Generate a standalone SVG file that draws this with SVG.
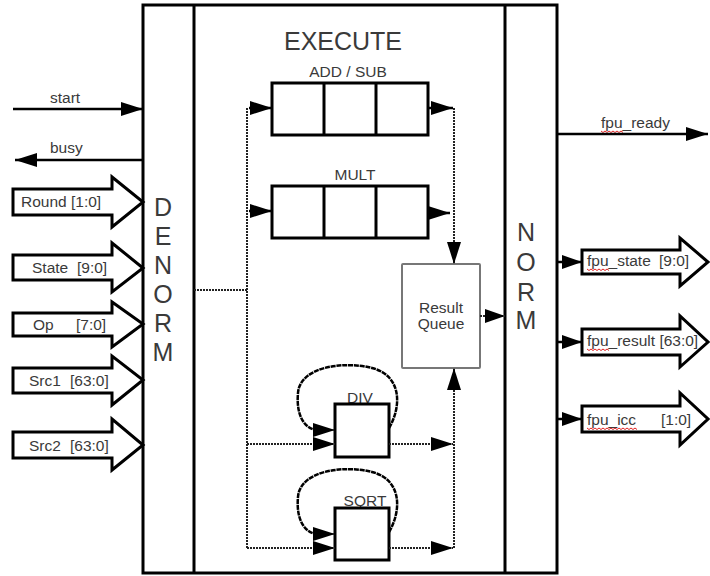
<svg xmlns="http://www.w3.org/2000/svg" width="710" height="576" viewBox="0 0 710 576">
  <style>
    text { font-family: "Liberation Sans", Arial, sans-serif; fill: #3a3a3a; }
    .lbl { font-size: 15.5px; }
    .big { font-size: 25px; }
    .frame { fill: #fff; stroke: #000; stroke-width: 3; }
    .box { fill: #fff; stroke: #000; stroke-width: 3; }
    .solid { fill: none; stroke: #000; stroke-width: 2.5; }
    .dot { fill: none; stroke: #222; stroke-width: 2; stroke-dasharray: 2 1; }
    .loop { fill: none; stroke: #000; stroke-width: 2.5; stroke-dasharray: 5 0.8; }
    .fat { fill: #fff; stroke: #000; stroke-width: 3; stroke-linejoin: miter; }
    .queue { fill: #fff; stroke: #777; stroke-width: 2; }
    .squig { fill: none; stroke: #e02020; stroke-width: 1; }
  </style>
  <defs>
    <marker id="ah" markerUnits="userSpaceOnUse" markerWidth="24" markerHeight="16" refX="22" refY="7" orient="auto">
      <path d="M0,0 L22,7 L0,14 z" fill="#000"/>
    </marker>
    <marker id="ahs" markerUnits="userSpaceOnUse" markerWidth="22" markerHeight="16" refX="20" refY="7" orient="auto">
      <path d="M0,0 L20,7 L0,14 z" fill="#000"/>
    </marker>
  </defs>

  <rect width="710" height="576" fill="#fff"/>

  <!-- outer frame with DENORM / EXECUTE / NORM columns -->
  <g id="frame">
    <rect class="frame" x="143" y="5" width="414" height="568"/>
  </g>

  <g id="denorm">
    <line x1="194" y1="5" x2="194" y2="573" stroke="#000" stroke-width="3"/>
    <g class="big" text-anchor="middle">
      <text x="163" y="216">D</text>
      <text x="163" y="245">E</text>
      <text x="163" y="274">N</text>
      <text x="163" y="303">O</text>
      <text x="163" y="332">R</text>
      <text x="163" y="361">M</text>
    </g>
  </g>

  <g id="norm">
    <line x1="505" y1="5" x2="505" y2="573" stroke="#000" stroke-width="3"/>
    <g class="big" text-anchor="middle">
      <text x="526" y="241">N</text>
      <text x="526" y="271">O</text>
      <text x="526" y="301">R</text>
      <text x="526" y="329">M</text>
    </g>
  </g>

  <g id="execute">
    <text class="big" x="343" y="50" text-anchor="middle">EXECUTE</text>
  </g>

  <!-- pipelined units -->
  <g id="addsub">
    <text class="lbl" x="348" y="77" text-anchor="middle">ADD / SUB</text>
    <rect class="box" x="272" y="83" width="156" height="52"/>
    <line x1="324" y1="83" x2="324" y2="135" stroke="#000" stroke-width="3"/>
    <line x1="376" y1="83" x2="376" y2="135" stroke="#000" stroke-width="3"/>
  </g>

  <g id="mult">
    <text class="lbl" x="355" y="180" text-anchor="middle">MULT</text>
    <rect class="box" x="272" y="186" width="156" height="52"/>
    <line x1="324" y1="186" x2="324" y2="238" stroke="#000" stroke-width="3"/>
    <line x1="376" y1="186" x2="376" y2="238" stroke="#000" stroke-width="3"/>
  </g>

  <g id="queue">
    <rect class="queue" x="402" y="264" width="78" height="104" rx="1"/>
    <text class="lbl" x="441" y="313" text-anchor="middle">Result</text>
    <text class="lbl" x="441" y="329" text-anchor="middle">Queue</text>
  </g>

  <g id="div">
    <text class="lbl" x="360" y="403" text-anchor="middle">DIV</text>
    <rect class="box" x="335" y="404" width="54" height="53"/>
  </g>

  <g id="sqrt">
    <text class="lbl" x="365" y="506" text-anchor="middle">SQRT</text>
    <rect class="box" x="335" y="508" width="54" height="52"/>
  </g>

  <!-- input ports -->
  <g id="in-round">
    <path class="fat" d="M13,189 L112,189 L112,177 L143,202 L112,227 L112,215 L13,215 Z"/>
    <text class="lbl" x="21" y="207">Round [1:0]</text>
  </g>
  <g id="in-state">
    <path class="fat" d="M13,255 L112,255 L112,243 L143,268 L112,292 L112,280 L13,280 Z"/>
    <text class="lbl" x="32" y="273"><tspan>State </tspan><tspan x="77">[9:0]</tspan></text>
  </g>
  <g id="in-op">
    <path class="fat" d="M13,313 L112,313 L112,302 L143,324 L112,347 L112,336 L13,336 Z"/>
    <text class="lbl" x="33" y="330"><tspan>Op </tspan><tspan x="76">[7:0]</tspan></text>
  </g>
  <g id="in-src1">
    <path class="fat" d="M13,368 L112,368 L112,356 L143,380 L112,405 L112,393 L13,393 Z"/>
    <text class="lbl" x="29" y="386"><tspan>Src1 </tspan><tspan x="70">[63:0]</tspan></text>
  </g>
  <g id="in-src2">
    <path class="fat" d="M13,432 L112,432 L112,419 L143,445 L112,470 L112,458 L13,458 Z"/>
    <text class="lbl" x="29" y="451"><tspan>Src2 </tspan><tspan x="70">[63:0]</tspan></text>
  </g>
  <g id="start-label"><text class="lbl" x="50" y="103">start</text></g>
  <g id="busy-label"><text class="lbl" x="50" y="153">busy</text></g>

  <!-- output ports -->
  <g id="fpu-ready-label">
    <text class="lbl" x="601" y="128">fpu_ready</text>
    <path class="squig" d="M601,131 l2,1.5 l2,-1.5 l2,1.5 l2,-1.5 l2,1.5 l2,-1.5 l2,1.5 l2,-1.5 l2,1.5 l2,-1.5 l2,1.5"/>
  </g>
  <g id="out-state">
    <path class="fat" d="M582,250 L680,250 L680,238 L708,262 L680,286 L680,274 L582,274 Z"/>
    <text class="lbl" x="587" y="266"><tspan>fpu_state </tspan><tspan x="659">[9:0]</tspan></text>
    <path class="squig" d="M587,269 l2,1.5 l2,-1.5 l2,1.5 l2,-1.5 l2,1.5 l2,-1.5 l2,1.5 l2,-1.5 l2,1.5 l2,-1.5 l2,1.5"/>
  </g>
  <g id="out-result">
    <path class="fat" d="M582,329 L680,329 L680,316 L708,342 L680,367 L680,355 L582,355 Z"/>
    <text class="lbl" x="587" y="346">fpu_result [63:0]</text>
    <path class="squig" d="M587,349 l2,1.5 l2,-1.5 l2,1.5 l2,-1.5 l2,1.5 l2,-1.5 l2,1.5 l2,-1.5 l2,1.5 l2,-1.5 l2,1.5"/>
  </g>
  <g id="out-icc">
    <path class="fat" d="M582,406 L680,406 L680,393 L708,419 L680,445 L680,432 L582,432 Z"/>
    <text class="lbl" x="587" y="425"><tspan>fpu_icc </tspan><tspan x="661">[1:0]</tspan></text>
    <path class="squig" d="M587,428 l2,1.5 l2,-1.5 l2,1.5 l2,-1.5 l2,1.5 l2,-1.5 l2,1.5 l2,-1.5 l2,1.5 l2,-1.5 l2,1.5 l2,-1.5 l2,1.5 l2,-1.5 l2,1.5 l2,-1.5 l2,1.5 l2,-1.5 l2,1.5 l2,-1.5 l2,1.5 l2,-1.5 l2,1.5 l2,-1.5 l2,1.5"/>
  </g>

  <!-- connectors -->
  <g id="connectors">
    <line class="solid" x1="13" y1="109" x2="143" y2="109" marker-end="url(#ah)"/>
    <line class="solid" x1="143" y1="160" x2="15" y2="160" marker-end="url(#ah)"/>

    <!-- DENORM to execution units -->
    <path class="dot" d="M194,290 L247,290"/>
    <path class="dot" d="M247,108 L247,548"/>
    <line class="solid" x1="249" y1="108" x2="272" y2="108" stroke-width="1" marker-end="url(#ah)"/>
    <line class="solid" x1="249" y1="211" x2="272" y2="211" stroke-width="1" marker-end="url(#ah)"/>
    <path class="dot" d="M247,444 L335,444" marker-end="url(#ah)"/>
    <path class="dot" d="M247,548 L335,548" marker-end="url(#ah)"/>

    <!-- iteration loops -->
    <path class="loop" d="M389,428 C401,408 403,376 372,368 C345,361 300,366 298,393 C296,415 304,428 316,430" />
    <line x1="314" y1="430" x2="335" y2="430" stroke="#000" stroke-width="1" marker-end="url(#ah)"/>
    <path class="loop" d="M389,532 C401,512 403,480 372,472 C345,465 300,470 298,497 C296,519 304,532 316,534" />
    <line x1="314" y1="534" x2="335" y2="534" stroke="#000" stroke-width="1" marker-end="url(#ah)"/>

    <!-- unit outputs to result queue -->
    <line class="solid" x1="428" y1="108" x2="453" y2="108" stroke-width="1" marker-end="url(#ah)"/>
    <path class="dot" d="M454,108 L454,264" marker-end="url(#ah)"/>
    <line class="solid" x1="428" y1="213" x2="450" y2="213" stroke-width="1.5" marker-end="url(#ah)"/>
    <path class="dot" d="M389,444 L453,444" marker-end="url(#ah)"/>
    <path class="dot" d="M389,548 L453,548" marker-end="url(#ah)"/>
    <path class="dot" d="M454,548 L454,368" marker-end="url(#ah)"/>
    <path class="dot" d="M480,316 L505,316" marker-end="url(#ahs)"/>

    <!-- NORM outputs -->
    <line class="solid" x1="557" y1="134" x2="708" y2="134" marker-end="url(#ah)"/>
    <line class="solid" x1="557" y1="262" x2="582" y2="262" marker-end="url(#ahs)"/>
    <line class="solid" x1="557" y1="342" x2="582" y2="342" marker-end="url(#ahs)"/>
    <line class="solid" x1="557" y1="419" x2="582" y2="419" marker-end="url(#ahs)"/>
  </g>
</svg>
